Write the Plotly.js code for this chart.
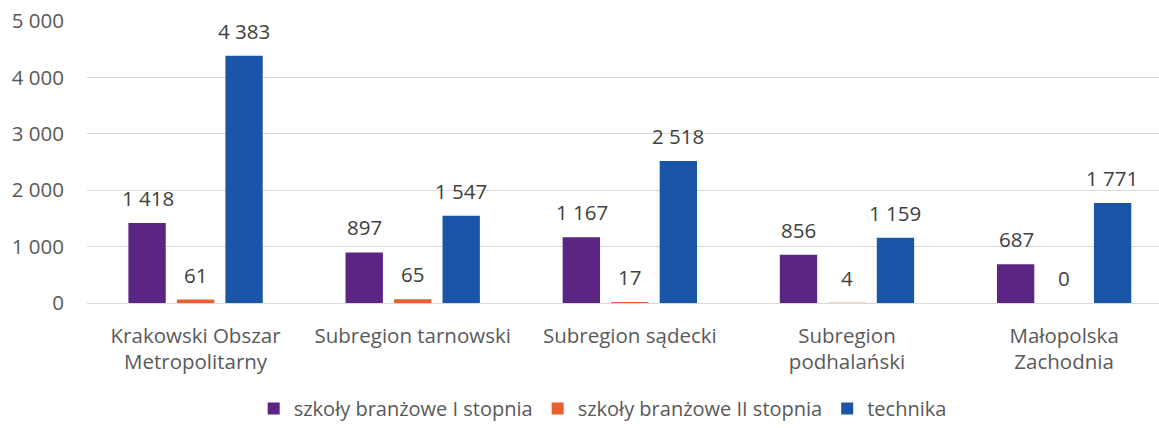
<!DOCTYPE html>
<html>
<head>
<meta charset="utf-8">
<script src="https://cdn.plot.ly/plotly-3.0.1.min.js"></script>
<style>html,body{margin:0;padding:0;background:#fff}#chart{width:1159px;height:428px}</style>
</head>
<body>
<div id="chart"></div>
<script>
const categories = ["Krakowski Obszar<br>Metropolitarny", "Subregion tarnowski", "Subregion sądecki", "Subregion<br>podhalański", "Małopolska<br>Zachodnia"];
const seriesNames = ["szkoły branżowe I stopnia", "szkoły branżowe II stopnia", "technika"];
const branzoweI = [1418, 897, 1167, 856, 687];
const branzoweII = [61, 65, 17, 4, 0];
const technika = [4383, 1547, 2518, 1159, 1771];
const yTicks = [0, 1000, 2000, 3000, 4000, 5000];

const colors = ["#5c2483", "#e5612d", "#1a55a8"];
const seriesValues = [branzoweI, branzoweII, technika];
const FONT = "Open Sans, Noto Sans, sans-serif";
const FS = 20.5;

function fmt(v) {
  return String(v).replace(/\B(?=(\d{3})+(?!\d))/g, " ");
}

const traces = seriesValues.map((vals, i) => ({
  type: "bar",
  name: seriesNames[i],
  x: categories,
  y: vals,
  marker: {color: colors[i]},
  hoverinfo: "skip"
}));

const annotations = [];
const shifts = [-48, 0, 48];
seriesValues.forEach((vals, i) => {
  vals.forEach((v, j) => {
    annotations.push({
      x: categories[j], y: v, xref: "x", yref: "y",
      text: fmt(v), showarrow: false,
      xanchor: "center", yanchor: "middle",
      xshift: shifts[i], yshift: 25,
      font: {family: FONT, size: FS, color: "#404040"}
    });
  });
});

const layout = {
  width: 1159, height: 428,
  margin: {l: 87, r: 0, t: 21, b: 125},
  paper_bgcolor: "#fff", plot_bgcolor: "#fff",
  barmode: "group",
  bargap: 0.33,
  bargroupgap: 0.23,
  separators: ", ",
  font: {family: FONT, size: FS, color: "#595959"},
  xaxis: {
    range: [-0.5, 4.437],
    showgrid: false,
    showline: true, linecolor: "#d9d9d9", linewidth: 1,
    ticks: "",
    ticklabelstandoff: 14,
    tickfont: {family: FONT, size: FS, color: "#595959"},
    fixedrange: true
  },
  yaxis: {
    range: [0, 5000],
    tickvals: yTicks,
    ticktext: yTicks.map(fmt),
    showgrid: true, gridcolor: "#d9d9d9", gridwidth: 1,
    zeroline: false,
    showline: false,
    ticks: "",
    ticklabelstandoff: 22,
    tickfont: {family: FONT, size: FS, color: "#595959"},
    fixedrange: true
  },
  showlegend: true,
  legend: {
    orientation: "h",
    xref: "container", yref: "container",
    x: 0.52, xanchor: "center",
    y: 0.0, yanchor: "bottom",
    font: {family: FONT, size: 20, color: "#595959"},
    itemwidth: 30,
    traceorder: "normal"
  },
  annotations: annotations
};

Plotly.newPlot("chart", traces, layout, {displayModeBar: false, staticPlot: true});
</script>
</body>
</html>
